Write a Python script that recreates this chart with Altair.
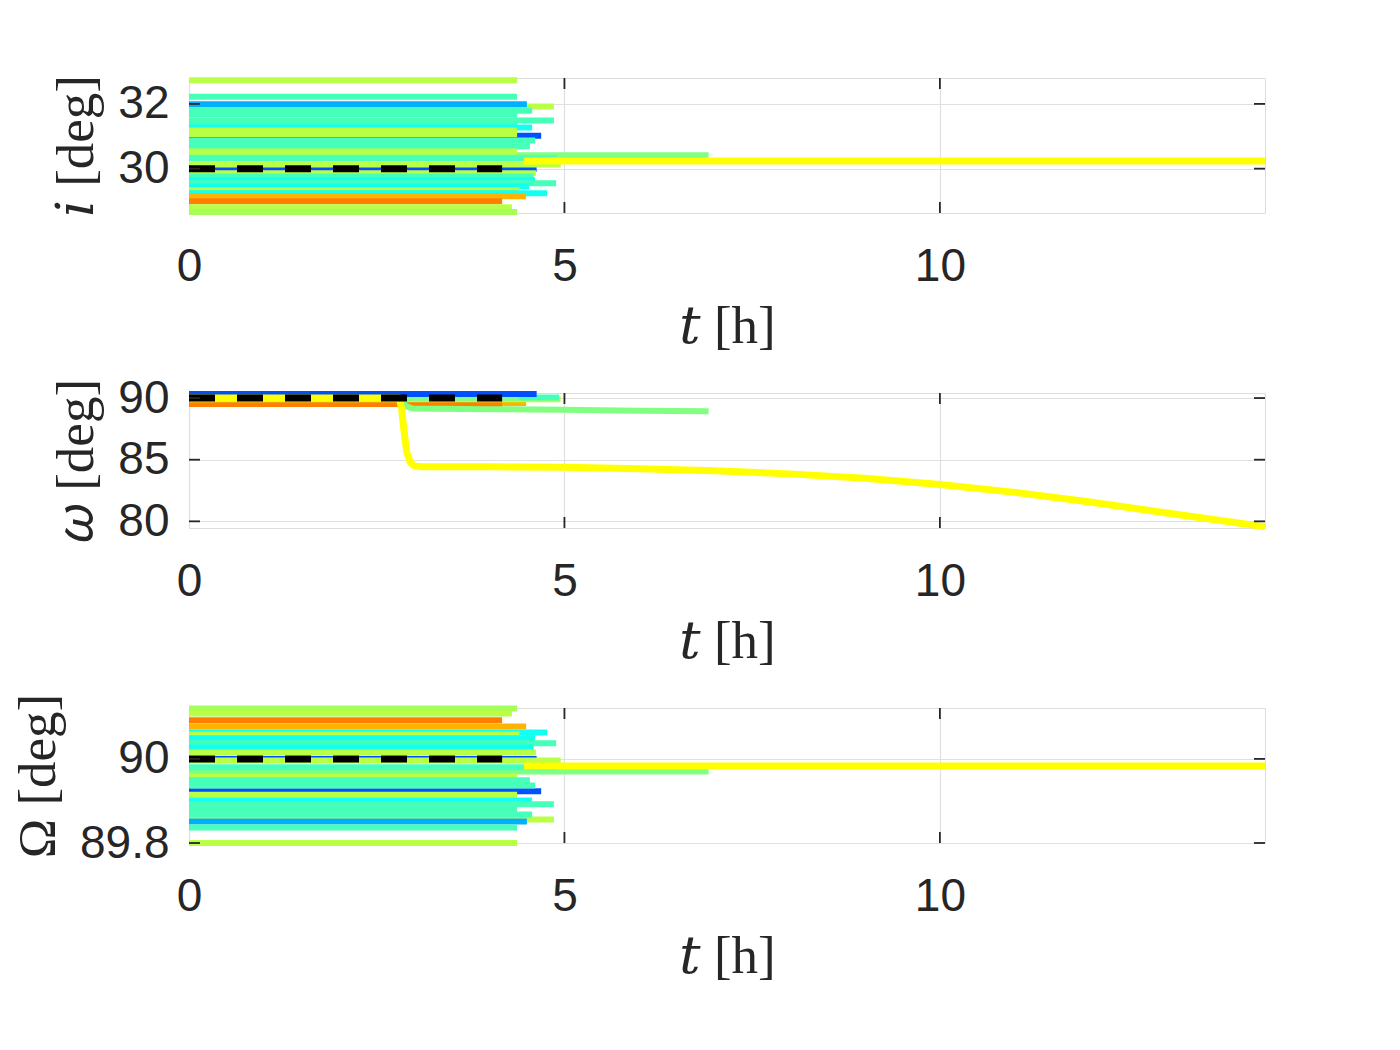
import altair as alt
import pandas as pd

# ---------------- colours (jet-like palette) ----------------
YG = "#b9ff46"
LYG = "#a6ff59"
AQ = "#46ffb9"
CY = "#13fff0"
BL = "#00b0ff"
DB = "#0050ff"
OR = "#ff8000"
AM = "#ffb300"
YE = "#ffff00"
LG = "#80ff80"

T_MAX = 14.33
X_TICKS = [0, 5, 10]

# ---------------- panel 1 : inclination i [deg] ----------------
I_VAL = [30.41, 31.92, 31.99, 31.02, 30.00, 32.73, 32.22, 31.79, 31.67, 31.49, 31.36,
         31.27, 31.18, 31.06, 30.87, 30.69, 30.53, 30.32, 30.13, 29.86, 29.76, 29.64,
         29.55, 29.46, 29.33, 29.24, 29.15, 28.99, 28.81, 28.66]
I_END = [6.92, 4.86, 4.50, 4.69, 4.63, 4.37, 4.37, 4.57, 4.37, 4.86, 4.37,
         4.57, 4.37, 4.37, 4.61, 4.54, 4.37, 4.90, 4.95, 4.62, 4.59, 4.61,
         4.89, 4.53, 4.40, 4.77, 4.49, 4.17, 4.30, 4.37]
I_COL = [LG, YG, BL, DB, DB, YG, AQ, AQ, AQ, AQ, AQ,
         CY, YG, YG, AQ, AQ, YG, AQ, YG, YG, AQ, CY,
         AQ, CY, YG, CY, AM, OR, YG, LYG]
I_YEL_T = [4.46, 14.33]
I_YEL_V = [30.24, 30.24]
I_DOMAIN = [28.63, 32.8]
I_TICKS = [30, 32]

# ---------------- panel 2 : argument of periapsis omega [deg] ----------------
W_VAL = [89.60, 89.52, 89.90, 90.05, 90.00, 90.33]
W_END = [4.49, 4.17, 4.95, 4.93, 4.40, 4.63]
W_COL = [AM, OR, YG, AQ, LG, DB]
W_GRN_T = [0, 2.82, 2.88, 2.97, 4.0, 5.0, 6.0, 6.92]
W_GRN_V = [90.0, 90.0, 89.4, 89.15, 89.1, 89.05, 88.98, 88.92]
W_YEL_T = [0, 2.80, 2.83, 2.86, 2.90, 2.95, 3.00, 3.1, 4, 5, 6, 7, 8, 9, 10, 11, 12, 13, 14, 14.33]
W_YEL_V = [90.0, 90.0, 89.2, 87.5, 85.6, 84.75, 84.5, 84.43, 84.42, 84.38, 84.27, 84.1,
           83.85, 83.5, 82.98, 82.35, 81.57, 80.7, 79.85, 79.55]
W_DOMAIN = [79.46, 90.41]
W_TICKS = [80, 85, 90]

# ---------------- panel 3 : RAAN Omega [deg] ----------------
O_VAL = [89.970, 89.923, 90.000, 89.856, 89.851, 89.996, 90.120, 90.108, 90.077, 90.092,
         90.063, 90.058, 90.049, 90.037, 90.027, 90.015, 89.980, 89.958, 89.949, 89.937,
         89.915, 89.901, 89.892, 89.880, 89.868, 89.837, 89.800]
O_END = [6.92, 4.69, 4.63, 4.86, 4.50, 4.95, 4.37, 4.30, 4.49, 4.17,
         4.77, 4.40, 4.61, 4.89, 4.59, 4.62, 4.90, 4.37, 4.54, 4.61,
         4.37, 4.57, 4.86, 4.37, 4.57, 4.37, 4.37]
O_COL = [LG, DB, DB, YG, BL, YG, LYG, YG, AM, OR,
         CY, YG, CY, AQ, CY, YG, AQ, YG, AQ, AQ,
         YG, CY, AQ, AQ, AQ, AQ, YG]
O_YEL_T = [4.46, 14.33]
O_YEL_V = [89.983, 89.983]
O_DOMAIN = [89.8, 90.121]
O_TICKS = [89.8, 90]

# reference (dashed) trajectory
REF_T = [0, 4.17]
REF_I = [30, 30]
REF_W = [90, 90]
REF_O = [90, 90]

W_PX = 1076
H_PX = 135
TICK_LEN = 11
AXIS_COLOR = "#262626"
LABEL_FONT = "Liberation Sans, Arial, sans-serif"
TITLE_FONT = "Liberation Serif, DejaVu Serif, serif"


def const_lines(vals, ends, cols):
    rows = []
    for k, (v, e, c) in enumerate(zip(vals, ends, cols)):
        sid = f"s{k:03d}"
        rows.append({"id": sid, "t": 0.0, "v": v, "c": c})
        rows.append({"id": sid, "t": e, "v": v, "c": c})
    return pd.DataFrame(rows)


def panel(vals, ends, cols, extra, ref_v, domain, yticks, ytitle, yfmt):
    xs = alt.Scale(domain=[0, T_MAX], nice=False, zero=False)
    ys = alt.Scale(domain=domain, nice=False, zero=False)
    xax = alt.Axis(values=X_TICKS, title="𝑡 [h]", ticks=False, domain=False,
                   labelFontSize=46, labelFont=LABEL_FONT, labelColor=AXIS_COLOR,
                   labelPadding=31, titleFont=TITLE_FONT, titleFontSize=53,
                   titleFontWeight="normal", titleColor=AXIS_COLOR, titlePadding=11,
                   gridColor="#e0e0e0", gridWidth=1.2, labelFlush=False)
    yax = alt.Axis(values=yticks, title=ytitle, ticks=False, domain=False, format=yfmt,
                   labelFontSize=46, labelFont=LABEL_FONT, labelColor=AXIS_COLOR,
                   labelPadding=20, titleFont=TITLE_FONT, titleFontSize=53,
                   titleFontWeight="normal", titleColor=AXIS_COLOR, titlePadding=14,
                   gridColor="#e0e0e0", gridWidth=1.2)
    X = alt.X("t:Q", scale=xs, axis=xax)
    Y = alt.Y("v:Q", scale=ys, axis=yax)

    layers = []
    df = const_lines(vals, ends, cols)
    layers.append(alt.Chart(df).mark_line(strokeWidth=6, strokeCap="butt").encode(
        x=X, y=Y, color=alt.Color("c:N", scale=None), detail="id:N"))
    for (tt, vv, col, w) in extra:
        d = pd.DataFrame({"t": tt, "v": vv})
        layers.append(alt.Chart(d).mark_line(strokeWidth=w, color=col, strokeJoin="round",
                                             strokeCap="butt").encode(x=X, y=Y))
    dref = pd.DataFrame({"t": REF_T, "v": ref_v})
    layers.append(alt.Chart(dref).mark_line(strokeWidth=7, color="black",
                                            strokeDash=[26, 22], strokeCap="butt").encode(x=X, y=Y))
    # inward tick marks (MATLAB style box ticks)
    dxt = pd.DataFrame({"t": [x for x in X_TICKS if x > 0]})
    dyt = pd.DataFrame({"v": yticks})
    tick = dict(color=AXIS_COLOR, strokeWidth=1.8)
    layers.append(alt.Chart(dxt).mark_rule(**tick).encode(
        x=X, y=alt.value(H_PX), y2=alt.value(H_PX - TICK_LEN)))
    layers.append(alt.Chart(dxt).mark_rule(**tick).encode(
        x=X, y=alt.value(0), y2=alt.value(TICK_LEN)))
    layers.append(alt.Chart(dyt).mark_rule(**tick).encode(
        y=Y, x=alt.value(0), x2=alt.value(TICK_LEN)))
    layers.append(alt.Chart(dyt).mark_rule(**tick).encode(
        y=Y, x=alt.value(W_PX), x2=alt.value(W_PX - TICK_LEN)))
    return alt.layer(*layers).properties(width=W_PX, height=H_PX)


p1 = panel(I_VAL, I_END, I_COL, [(I_YEL_T, I_YEL_V, YE, 7)], REF_I,
           I_DOMAIN, I_TICKS, "𝑖 [deg]", "~g")
p2 = panel(W_VAL, W_END, W_COL, [(W_GRN_T, W_GRN_V, LG, 6), (W_YEL_T, W_YEL_V, YE, 7)],
           REF_W, W_DOMAIN, W_TICKS, "𝜔 [deg]", "~g")
p3 = panel(O_VAL, O_END, O_COL, [(O_YEL_T, O_YEL_V, YE, 7)], REF_O,
           O_DOMAIN, O_TICKS, "Ω [deg]", "~g")

chart = alt.vconcat(p1, p2, p3, spacing=180, bounds="flush").properties(
    padding={"top": 59, "left": 3, "right": 5, "bottom": 5}
).configure_view(stroke=AXIS_COLOR, strokeWidth=1.8).configure(background="white")

chart.save("out.html", embed_options={"renderer": "svg", "actions": False})
